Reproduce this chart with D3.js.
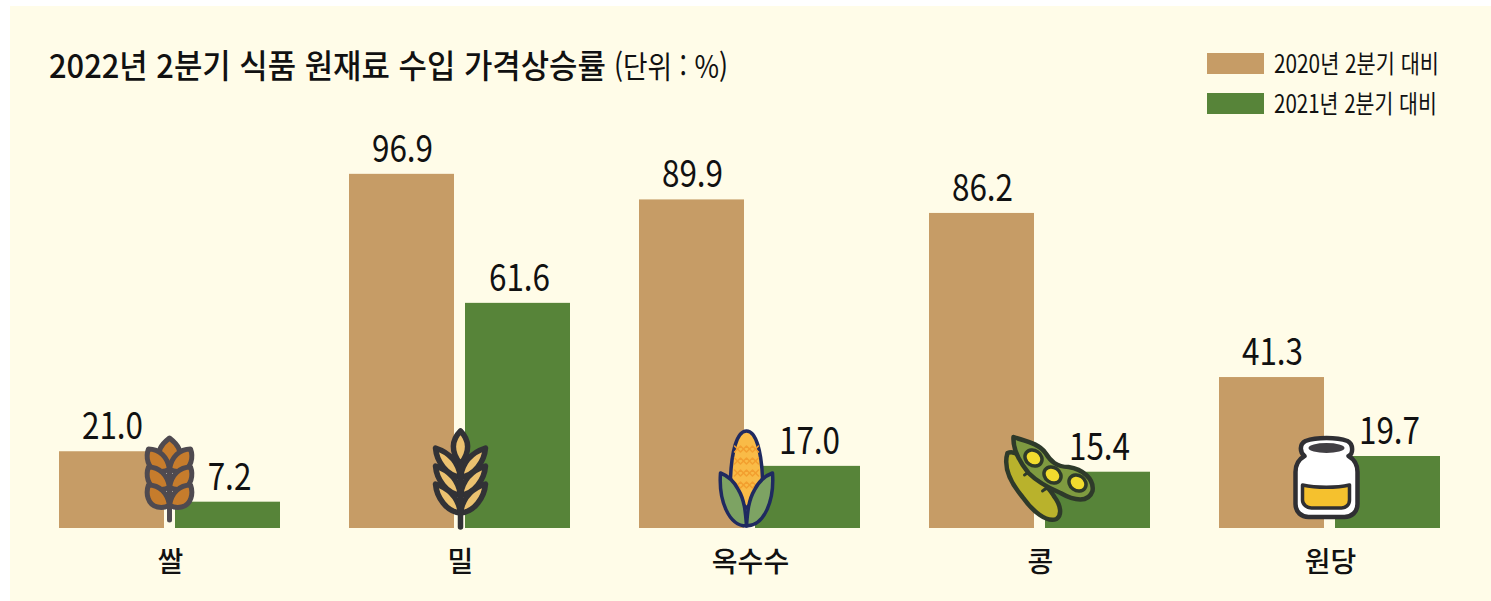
<!DOCTYPE html>
<html lang="ko">
<head>
<meta charset="utf-8">
<script src="https://cdn.jsdelivr.net/npm/d3@7"></script>
<style>
  html, body { margin: 0; padding: 0; background: #fff; }
  svg { display: block; }
  text { font-family: "Noto Sans CJK KR", "Noto Sans", sans-serif; fill: #111; }
</style>
</head>
<body>
<script>
const categories = ['쌀', '밀', '옥수수', '콩', '원당'];
const seriesNames = ['2020년 2분기 대비', '2021년 2분기 대비'];
const values2020 = [21.0, 96.9, 89.9, 86.2, 41.3];
const values2021 = [7.2, 61.6, 17.0, 15.4, 19.7];
const colors = ['#c69c66', '#578439'];

const w = 1491, h = 601;
const baseline = 528;

const svg = d3.select('body').append('svg')
  .attr('width', w)
  .attr('height', h);

svg.append('rect')
  .attr('x', 10).attr('y', 6)
  .attr('width', w - 10).attr('height', h - 6)
  .attr('fill', '#fffce8');

const x0 = d3.scaleBand().domain(d3.range(categories.length)).range([59, 1440]).paddingInner(69 / 290);
const x1 = d3.scaleBand().domain([0, 1]).range([0, x0.bandwidth()]).paddingInner(11 / 116);
const y = d3.scaleLinear().domain([0, 100]).range([baseline, baseline - 365.5]);

// squeeze a text sideways so it spans the given width
function fit(sel, x, yPos, width) {
  const natural = sel.node().getComputedTextLength();
  sel.attr('transform', `translate(${x},${yPos}) scale(${width / natural},1)`);
  return sel;
}

// bars + value labels
[values2020, values2021].forEach((vals, s) => {
  const g = svg.append('g');
  g.selectAll('rect')
    .data(vals)
    .join('rect')
    .attr('x', (d, i) => x0(i) + x1(s))
    .attr('y', d => y(d))
    .attr('width', x1.bandwidth())
    .attr('height', d => baseline - y(d))
    .attr('fill', colors[s]);

  g.selectAll('text')
    .data(vals)
    .join('text')
    .attr('text-anchor', 'middle')
    .attr('transform', (d, i) => `translate(${x0(i) + x1(s) + x1.bandwidth() / 2 + (s ? 2 : 1)},${y(d) - 12}) scale(0.85,1)`)
    .attr('font-size', 37)
    .text(d => d.toFixed(1));
});

// category labels
svg.append('g').selectAll('text')
  .data(categories)
  .join('text')
  .attr('x', (d, i) => x0(i) + x0.bandwidth() / 2 + 1)
  .attr('y', 572)
  .attr('text-anchor', 'middle')
  .attr('font-size', 28)
  .attr('font-weight', 500)
  .text(d => d);

// title
fit(svg.append('text')
  .attr('font-size', 33)
  .attr('font-weight', 500)
  .text('2022년 2분기 식품 원재료 수입 가격상승률'), 49, 78, 557);
fit(svg.append('text')
  .attr('font-size', 31)
  .attr('fill', '#333')
  .text('(단위 : %)'), 614, 78, 114);

// legend
const legend = svg.append('g').selectAll('g')
  .data(seriesNames)
  .join('g')
  .attr('transform', (d, i) => `translate(1207,${53 + i * 40})`);
legend.append('rect')
  .attr('width', 57).attr('height', 21)
  .attr('fill', (d, i) => colors[i]);
legend.append('text')
  .attr('font-size', 25)
  .attr('fill', '#333')
  .text(d => d)
  .each(function(d, i) { fit(d3.select(this), 67, 20, i ? 163 : 165); });

// icons, drawn in local coordinates around (0,0)
function grain(g, d, fill, stroke, sw) {
  return g.append('path').attr('d', d).attr('fill', fill).attr('stroke', stroke)
    .attr('stroke-width', sw).attr('stroke-linejoin', 'round').attr('stroke-linecap', 'round');
}

function riceIcon(g) {
  const st = '#4f4a50', f = '#c67c2c';
  grain(g, 'M0,-40 C-9,-33 -12,-26 -10,-20 C-8,-15 -4,-12 0,-9 C4,-12 8,-15 10,-20 C12,-26 9,-33 0,-40Z', f, st, 5);
  [-21, -3, 15].forEach(r => {
    grain(g, `M0,${r + 12} C-2,${r} -10,${r - 8} -21,${r - 8} C-24,${r} -22,${r + 12} -12,${r + 14} C-7,${r + 15} -3,${r + 14} 0,${r + 12}Z`, f, st, 5);
    grain(g, `M0,${r + 12} C2,${r} 10,${r - 8} 21,${r - 8} C24,${r} 22,${r + 12} 12,${r + 14} C7,${r + 15} 3,${r + 14} 0,${r + 12}Z`, f, st, 5);
  });
  grain(g, 'M0,-9 L0,42', 'none', st, 5);
}

function wheatIcon(g) {
  const st = '#323236', f = '#ecc270';
  grain(g, 'M0,-47 C-9,-38 -10,-26 0,-14 C10,-26 9,-38 0,-47Z', f, st, 5.5);
  [-19, -1, 17].forEach(r => {
    grain(g, `M0,${r + 18} C-2,${r + 4} -10,${r - 6} -25,${r - 11} C-24,${r + 2} -14,${r + 17} 0,${r + 18}Z`, f, st, 5.5);
    grain(g, `M0,${r + 18} C2,${r + 4} 10,${r - 6} 25,${r - 11} C24,${r + 2} 14,${r + 17} 0,${r + 18}Z`, f, st, 5.5);
  });
  grain(g, 'M0,-14 L0,49', 'none', st, 5.5);
}

function cornIcon(g) {
  const st = '#1f2a60';
  grain(g, 'M0,-47 C-10,-47 -15,-25 -16,0 C-15,15 -6,24 0,30 C6,24 15,15 16,0 C15,-25 10,-47 0,-47Z', '#f9bb47', st, 3.5);
  // kernel pattern
  [-32, -20, -8, 4].forEach(r => {
    grain(g, `M-12,${r + 6} L-6,${r} L0,${r + 6} L6,${r} L12,${r + 6}`, 'none', '#f29f2f', 1.5);
    grain(g, `M-12,${r} L-6,${r + 6} L0,${r} L6,${r + 6} L12,${r}`, 'none', '#f29f2f', 1.5);
  });
  grain(g, 'M-26,-5 C-28,22 -18,48 0,48 C-1,34 -2,22 -8,12 C-12,4 -18,-2 -26,-5Z', '#7da363', st, 3.5);
  grain(g, 'M26,-5 C28,22 18,48 0,48 C1,34 2,22 8,12 C12,4 18,-2 26,-5Z', '#7da363', st, 3.5);
}

function soyIcon(g) {
  const st = '#2e3a2a';
  // back pod
  grain(g, 'M-41,-26 C-46,-10 -36,6 -26,18 C-16,32 -2,44 8,40 C14,36 12,26 6,18 C0,8 -8,0 -18,-10 C-24,-18 -32,-30 -41,-26Z', '#b9b22c', st, 4.5);
  grain(g, 'M-24,-4 C-20,-8 -15,-8 -12,-4 M-6,12 C-2,8 4,8 7,12', 'none', st, 3);
  // open pod
  grain(g, 'M-35,-42 C-24,-38 -10,-36 -3,-26 C2,-18 8,-12 20,-12 C34,-10 46,0 44,12 C40,24 26,22 12,14 C-2,8 -12,2 -20,-6 C-28,-16 -36,-28 -35,-42Z', '#7f9b40', st, 4.5);
  [[-15, -21], [4, -4], [29, 4]].forEach(([cx, cy]) => {
    g.append('ellipse').attr('cx', cx).attr('cy', cy).attr('rx', 9).attr('ry', 7.5)
      .attr('transform', `rotate(35 ${cx} ${cy})`)
      .attr('fill', '#f2dc2e').attr('stroke', st).attr('stroke-width', 3.5);
  });
}

function jarIcon(g) {
  const st = '#2f2f33';
  grain(g, 'M-21,-37 C-10,-41 10,-41 21,-37 C27,-34 27,-24 22,-22 C29,-18 31,-12 31,-6 L31,26 C31,34 25,39 18,39 L-18,39 C-25,39 -31,34 -31,26 L-31,-6 C-31,-12 -29,-18 -22,-22 C-27,-26 -27,-34 -21,-37Z', '#fff', st, 4.5);
  g.append('ellipse').attr('cx', 0).attr('cy', -30).attr('rx', 18).attr('ry', 5).attr('fill', '#413f44');
  grain(g, 'M-24,7 C-10,10 10,10 23,7 L23,22 C23,27 19,30 15,30 L-15,30 C-19,30 -24,27 -24,22Z', '#f5c12e', st, 3.5);
}

const icons = [
  { draw: riceIcon, dx: 0, cy: 478 },
  { draw: wheatIcon, dx: 1, cy: 478 },
  { draw: cornIcon, dx: -3, cy: 478 },
  { draw: soyIcon, dx: 9, cy: 479 },
  { draw: jarIcon, dx: -3, cy: 478 }
];
icons.forEach((ic, i) => {
  const g = svg.append('g')
    .attr('transform', `translate(${x0(i) + x0.bandwidth() / 2 + ic.dx},${ic.cy})`);
  ic.draw(g);
});
</script>
</body>
</html>
